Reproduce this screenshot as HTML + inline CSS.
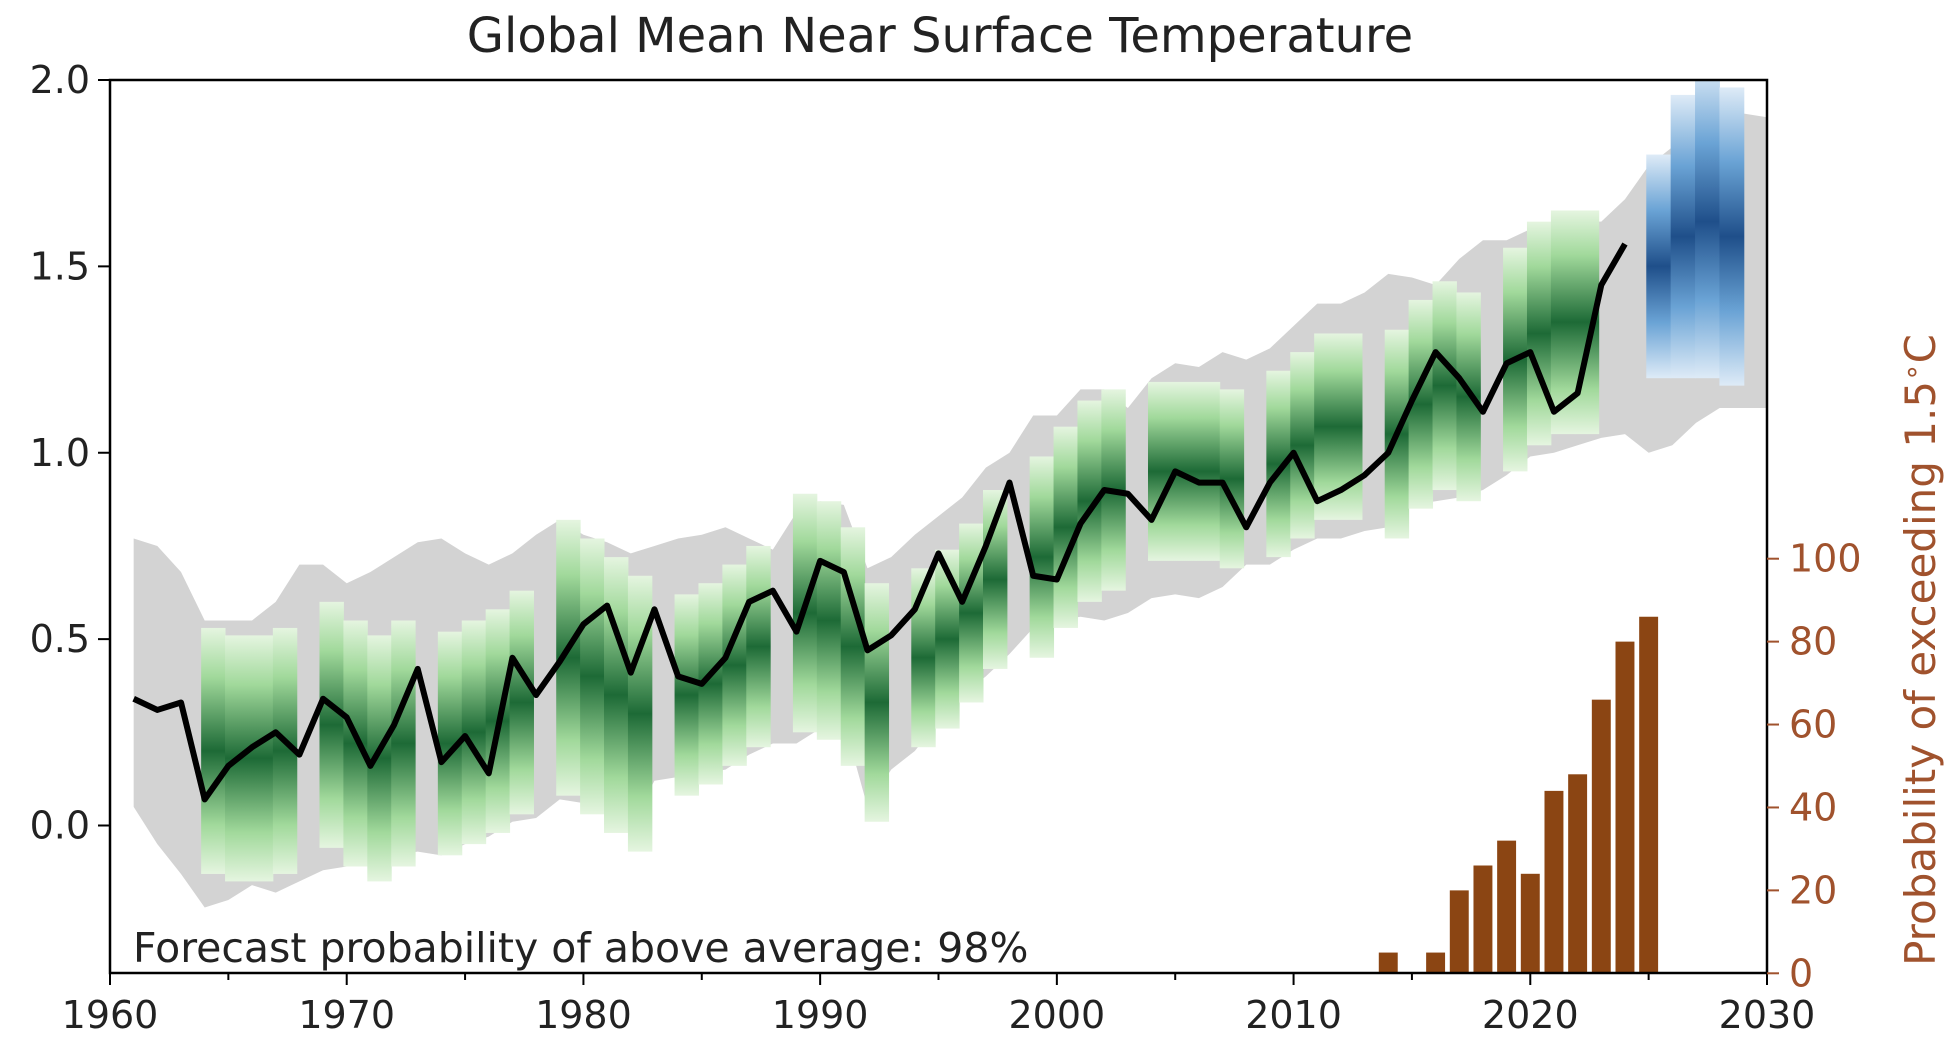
<!DOCTYPE html>
<html><head><meta charset="utf-8">
<style>
html,body{margin:0;padding:0;background:#fff;}
svg{display:block;font-family:"DejaVu Sans","Liberation Sans",sans-serif;}
</style></head>
<body>
<svg id="chart" width="1954" height="1052" viewBox="0 0 1954 1052">
<defs>
<linearGradient id="gGreen" x1="0" y1="0" x2="0" y2="1">
<stop offset="0" stop-color="#e5f5e0"/><stop offset="0.2" stop-color="#a1d99b"/><stop offset="0.5" stop-color="#1d6a36"/><stop offset="0.8" stop-color="#a1d99b"/><stop offset="1" stop-color="#e5f5e0"/>
</linearGradient>
<linearGradient id="gBlue" x1="0" y1="0" x2="0" y2="1">
<stop offset="0" stop-color="#deebf7"/><stop offset="0.25" stop-color="#6aa3d5"/><stop offset="0.5" stop-color="#1f4f8a"/><stop offset="0.75" stop-color="#6aa3d5"/><stop offset="1" stop-color="#deebf7"/>
</linearGradient>
<clipPath id="plotClip"><rect x="110" y="80" width="1657" height="893"/></clipPath>
</defs>
<g id="plot" clip-path="url(#plotClip)"></g>
<g id="axes"></g>
</svg>
<script>
const bandYears=[];for(let y=1961;y<=2030;y++)bandYears.push(y);
const bandUpper=[0.77,0.75,0.68,0.55,0.55,0.55,0.6,0.7,0.7,0.65,0.68,0.72,0.76,0.77,0.73,0.70,0.73,0.78,0.82,0.78,0.76,0.73,0.75,0.77,0.78,0.80,0.77,0.74,0.84,0.87,0.86,0.69,0.72,0.78,0.83,0.88,0.96,1.00,1.10,1.10,1.17,1.17,1.12,1.20,1.24,1.23,1.27,1.25,1.28,1.34,1.40,1.40,1.43,1.48,1.47,1.45,1.52,1.57,1.57,1.60,1.60,1.62,1.62,1.68,1.77,1.82,1.88,1.91,1.91,1.90];
const bandLower=[0.05,-0.05,-0.13,-0.22,-0.2,-0.16,-0.18,-0.15,-0.12,-0.11,-0.09,-0.08,-0.07,-0.08,-0.05,-0.03,0.01,0.02,0.07,0.06,0.05,0.0,0.12,0.13,0.14,0.15,0.19,0.22,0.22,0.26,0.28,0.05,0.15,0.20,0.28,0.35,0.40,0.46,0.53,0.55,0.56,0.55,0.57,0.61,0.62,0.61,0.64,0.70,0.70,0.74,0.77,0.77,0.79,0.80,0.86,0.87,0.88,0.90,0.94,0.99,1.00,1.02,1.04,1.05,1.00,1.02,1.08,1.12,1.12,1.12];
const obsYears=[];for(let y=1961;y<=2024;y++)obsYears.push(y);
const obsValues=[0.34,0.31,0.33,0.07,0.16,0.21,0.25,0.19,0.34,0.29,0.16,0.27,0.42,0.17,0.24,0.14,0.45,0.35,0.44,0.54,0.59,0.41,0.58,0.40,0.38,0.45,0.60,0.63,0.52,0.71,0.68,0.47,0.51,0.58,0.73,0.60,0.75,0.92,0.67,0.66,0.81,0.90,0.89,0.82,0.95,0.92,0.92,0.80,0.92,1.00,0.87,0.90,0.94,1.00,1.14,1.27,1.20,1.11,1.24,1.27,1.11,1.16,1.45,1.56];
const hindStarts=[1964,1969,1974,1979,1984,1989,1994,1999,2004,2009,2014,2019];
const hindCenters=[[0.20,0.18,0.18,0.20],[0.27,0.22,0.18,0.22],[0.22,0.25,0.28,0.33],[0.45,0.40,0.35,0.30],[0.35,0.38,0.43,0.48],[0.57,0.55,0.48,0.33],[0.45,0.50,0.57,0.66],[0.72,0.80,0.87,0.90],[0.95,0.95,0.95,0.93],[0.97,1.02,1.07,1.07],[1.05,1.13,1.18,1.15],[1.25,1.32,1.35,1.35]];
const hindHalf=[0.33,0.33,0.30,0.37,0.27,0.32,0.24,0.27,0.24,0.25,0.28,0.30];
const fcStart=2025;
const fcCenters=[1.50,1.58,1.62,1.58];
const fcHalf=[0.30,0.38,0.42,0.40];
const barYears=[2014,2016,2017,2018,2019,2020,2021,2022,2023,2024,2025];
const barValues=[5,5,20,26,32,24,44,48,66,80,86];
const xTicks=[1960,1970,1980,1990,2000,2010,2020,2030];
const yTicks=[0.0,0.5,1.0,1.5,2.0];
const y2Ticks=[0,20,40,60,80,100];

const L=110,R=1767,T=80,B=973;
const X=v=>L+(v-1960)*(R-L)/70;
const Y=v=>825.5-(v)*(825.5-80)/2.0;
const Y2=v=>973.3-v*4.146;
const NS="http://www.w3.org/2000/svg";
function mk(tag,attrs,parent){const e=document.createElementNS(NS,tag);for(const k in attrs)e.setAttribute(k,attrs[k]);parent.appendChild(e);return e;}
const plot=document.getElementById('plot'),axes=document.getElementById('axes');

let pts=bandYears.map((y,i)=>X(y)+','+Y(bandUpper[i]));
for(let i=bandYears.length-1;i>=0;i--)pts.push(X(bandYears[i])+','+Y(bandLower[i]));
const band=mk('polygon',{points:pts.join(' '),fill:'#d3d3d3'},plot);



hindStarts.forEach((s,b)=>{
  hindCenters[b].forEach((c,k)=>{
    const x0=X(s-0.15+k*1.01),x1=X(s-0.15+(k+1)*1.01);
    const r=mk('rect',{x:x0,y:Y(c+hindHalf[b]),width:x1-x0+0.5,height:Y(c-hindHalf[b])-Y(c+hindHalf[b]),fill:'url(#gGreen)'},plot);
    
    
  });
});
fcCenters.forEach((c,k)=>{
  const x0=X(fcStart-0.1+k*1.03),x1=X(fcStart-0.1+(k+1)*1.03);
  const r=mk('rect',{x:x0,y:Y(c+fcHalf[k]),width:x1-x0+0.5,height:Y(c-fcHalf[k])-Y(c+fcHalf[k]),fill:'url(#gBlue)'},plot);
  
  
});
barYears.forEach((y,i)=>{
  const w=X(0.8)-X(0);
  const r=mk('rect',{x:X(y)-w/2,y:Y2(barValues[i]),width:w,height:Y2(0)-Y2(barValues[i]),fill:'#8b4513'},plot);
  
  
});
const line=mk('polyline',{points:obsYears.map((y,i)=>X(y)+','+Y(obsValues[i])).join(' '),fill:'none',stroke:'#000','stroke-width':6,'stroke-linejoin':'round'},plot);



const frame=mk('rect',{x:L,y:T,width:R-L,height:B-T,fill:'none',stroke:'#000','stroke-width':2.5},axes);


for(let yv=1960;yv<=2030;yv+=5){
  const major=yv%10===0;
  mk('line',{x1:X(yv),x2:X(yv),y1:B,y2:B+(major?12:7),stroke:'#000','stroke-width':2},axes);
}
xTicks.forEach(v=>{
  const t=mk('text',{x:X(v),y:B+55,'text-anchor':'middle','font-size':38,fill:'#222'},axes);
  t.textContent=v;
  
  
});
yTicks.forEach(v=>{
  mk('line',{x1:L-12,x2:L,y1:Y(v),y2:Y(v),stroke:'#000','stroke-width':2},axes);
  const t=mk('text',{x:L-20,y:Y(v)+13,'text-anchor':'end','font-size':38,fill:'#222'},axes);
  t.textContent=v.toFixed(1);
  
  
});
y2Ticks.forEach(v=>{
  mk('line',{x1:R,x2:R+12,y1:Y2(v),y2:Y2(v),stroke:'#a0522d','stroke-width':2},axes);
  const t=mk('text',{x:R+22,y:Y2(v)+13,'font-size':38,fill:'#a0522d'},axes);
  t.textContent=v;
  
  
});
</script>
<svg style="position:absolute;left:0;top:0" width="1954" height="1052">
<text x="940" y="52" text-anchor="middle" font-family="DejaVu Sans, Liberation Sans, sans-serif" font-size="48" fill="#222">Global Mean Near Surface Temperature</text>
<text x="133" y="962" font-family="DejaVu Sans, Liberation Sans, sans-serif" font-size="41" fill="#222">Forecast probability of above average: 98%</text>
<text transform="translate(1935,650) rotate(-90)" text-anchor="middle" font-family="DejaVu Sans, Liberation Sans, sans-serif" font-size="42" fill="#a0522d">Probability of exceeding 1.5<tspan dy="-14" font-size="28">∘</tspan><tspan dy="14">C</tspan></text>
</svg>
</body></html>
